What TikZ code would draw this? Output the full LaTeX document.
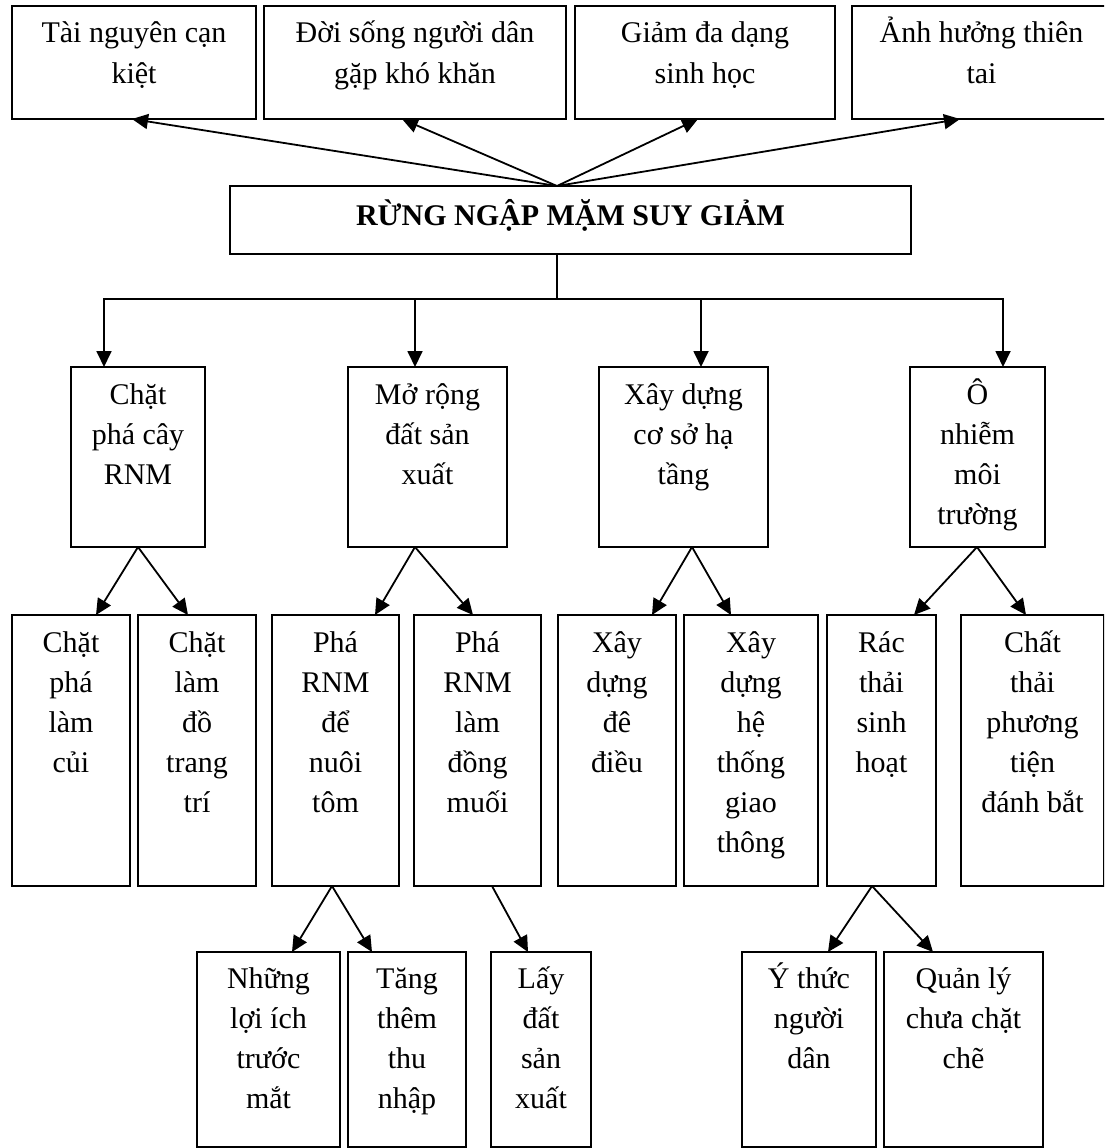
\documentclass[tikz,border=0pt]{standalone}
\usepackage{fontspec}
\setmainfont{Liberation Serif}
\usetikzlibrary{arrows.meta}
\newcommand\firstline{\rule{0pt}{33pt}}
\begin{document}
\begin{tikzpicture}[x=1pt,y=-1pt,
  box/.style={draw, line width=1.9pt, rectangle, inner sep=0pt, outer sep=0pt, anchor=north west},
  txt/.style={anchor=north, inner sep=0pt, outer sep=0pt, align=center, font=\fontsize{30}{40}\selectfont},
  con/.style={line width=1.8pt, -{Triangle[length=16pt,width=15pt]}},
  dcon/.style={line width=1.8pt, {Triangle[length=16pt,width=15pt]}-{Triangle[length=16pt,width=15pt]}},
  plain/.style={line width=1.8pt}]
\useasboundingbox (0,0) rectangle (1104,1148);
\clip (0,0) rectangle (1104,1148);

% top row
\node[box, minimum width=244pt, minimum height=113pt] (t1) at (12,6) {};
\node[box, minimum width=302pt, minimum height=113pt] (t2) at (264,6) {};
\node[box, minimum width=260pt, minimum height=113pt] (t3) at (575,6) {};
\node[box, minimum width=259pt, minimum height=113pt] (t4) at (852,6) {};
% central
\node[box, minimum width=681pt, minimum height=68pt] (c) at (230,186) {};
% level 2
\node[box, minimum width=134pt, minimum height=180pt] (A) at (71,367) {};
\node[box, minimum width=159pt, minimum height=180pt] (B) at (348,367) {};
\node[box, minimum width=169pt, minimum height=180pt] (C) at (599,367) {};
\node[box, minimum width=135pt, minimum height=180pt] (D) at (910,367) {};
% level 3
\node[box, minimum width=118pt, minimum height=271pt] (L1) at (12,615) {};
\node[box, minimum width=118pt, minimum height=271pt] (L2) at (138,615) {};
\node[box, minimum width=127pt, minimum height=271pt] (L3) at (272,615) {};
\node[box, minimum width=127pt, minimum height=271pt] (L4) at (414,615) {};
\node[box, minimum width=118pt, minimum height=271pt] (L5) at (558,615) {};
\node[box, minimum width=134pt, minimum height=271pt] (L6) at (684,615) {};
\node[box, minimum width=109pt, minimum height=271pt] (L7) at (827,615) {};
\node[box, minimum width=143pt, minimum height=271pt] (L8) at (961,615) {};
% level 4
\node[box, minimum width=143pt, minimum height=195pt] (M1) at (197,952) {};
\node[box, minimum width=118pt, minimum height=195pt] (M2) at (348,952) {};
\node[box, minimum width=100pt, minimum height=195pt] (M3) at (491,952) {};
\node[box, minimum width=134pt, minimum height=195pt] (M4) at (742,952) {};
\node[box, minimum width=159pt, minimum height=195pt] (M5) at (884,952) {};

% texts
\node[txt] (t1t) at ([yshift=-4pt]t1.north) {\firstline Tài nguyên cạn\\kiệt};
\node[txt] (t2t) at ([yshift=-4pt]t2.north) {\firstline Đời sống người dân\\gặp khó khăn};
\node[txt] (t3t) at ([yshift=-4pt]t3.north) {\firstline Giảm đa dạng\\sinh học};
\node[txt] (t4t) at ([yshift=-4pt]t4.north) {\firstline Ảnh hưởng thiên\\tai};
\node[txt, font=\bfseries\fontsize{30}{40}\selectfont] (ct) at ([yshift=-6pt]c.north) {\firstline RỪNG NGẬP MẶM SUY GIẢM};
\node[txt] (At) at ([yshift=-4pt]A.north) {\firstline Chặt\\phá cây\\RNM};
\node[txt] (Bt) at ([yshift=-4pt]B.north) {\firstline Mở rộng\\đất sản\\xuất};
\node[txt] (Ct) at ([yshift=-4pt]C.north) {\firstline Xây dựng\\cơ sở hạ\\tầng};
\node[txt] (Dt) at ([yshift=-4pt]D.north) {\firstline Ô\\nhiễm\\môi\\trường};
\node[txt] (L1t) at ([yshift=-4pt]L1.north) {\firstline Chặt\\phá\\làm\\củi};
\node[txt] (L2t) at ([yshift=-4pt]L2.north) {\firstline Chặt\\làm\\đồ\\trang\\trí};
\node[txt] (L3t) at ([yshift=-4pt]L3.north) {\firstline Phá\\RNM\\để\\nuôi\\tôm};
\node[txt] (L4t) at ([yshift=-4pt]L4.north) {\firstline Phá\\RNM\\làm\\đồng\\muối};
\node[txt] (L5t) at ([yshift=-4pt]L5.north) {\firstline Xây\\dựng\\đê\\điều};
\node[txt] (L6t) at ([yshift=-4pt]L6.north) {\firstline Xây\\dựng\\hệ\\thống\\giao\\thông};
\node[txt] (L7t) at ([yshift=-4pt]L7.north) {\firstline Rác\\thải\\sinh\\hoạt};
\node[txt] (L8t) at ([yshift=-4pt]L8.north) {\firstline Chất\\thải\\phương\\tiện\\đánh bắt};
\node[txt] (M1t) at ([yshift=-3pt]M1.north) {\firstline Những\\lợi ích\\trước\\mắt};
\node[txt] (M2t) at ([yshift=-3pt]M2.north) {\firstline Tăng\\thêm\\thu\\nhập};
\node[txt] (M3t) at ([yshift=-3pt]M3.north) {\firstline Lấy\\đất\\sản\\xuất};
\node[txt] (M4t) at ([yshift=-3pt]M4.north) {\firstline Ý thức\\người\\dân};
\node[txt] (M5t) at ([yshift=-3pt]M5.north) {\firstline Quản lý\\chưa chặt\\chẽ};

% connectors: centre to top row
\coordinate (org) at ([xshift=327pt]c.north west);
\coordinate (orgb) at ([xshift=327pt]c.south west);
\coordinate (bar) at (0,299);
\draw[con] (org) -- ([xshift=120pt]t1.south west);
\draw[con] (org) -- ([xshift=138pt]t2.south west);
\draw[con] (org) -- ([xshift=123pt]t3.south west);
\draw[con] (org) -- ([xshift=108pt]t4.south west);

% centre to level 2
\coordinate (Ain) at ([xshift=33pt]A.north west);
\coordinate (Bin) at ([xshift=67pt]B.north west);
\coordinate (Cin) at ([xshift=102pt]C.north west);
\coordinate (Din) at ([xshift=93pt]D.north west);
\draw[plain] (orgb) -- (orgb |- bar);
\draw[dcon] (Ain) -- (Ain |- bar) -- (Din |- bar) -- (Din);
\draw[con] (Bin |- bar) -- (Bin);
\draw[con] (Cin |- bar) -- (Cin);

% level 2 to level 3
\draw[con] ([xshift=67pt]A.south west) -- ([xshift=84pt]L1.north west);
\draw[con] ([xshift=67pt]A.south west) -- ([xshift=50pt]L2.north west);
\draw[con] ([xshift=67pt]B.south west) -- ([xshift=103pt]L3.north west);
\draw[con] ([xshift=67pt]B.south west) -- ([xshift=59pt]L4.north west);
\draw[con] ([xshift=93pt]C.south west) -- ([xshift=94pt]L5.north west);
\draw[con] ([xshift=93pt]C.south west) -- ([xshift=47pt]L6.north west);
\draw[con] ([xshift=67pt]D.south west) -- ([xshift=87pt]L7.north west);
\draw[con] ([xshift=67pt]D.south west) -- ([xshift=65pt]L8.north west);

% level 3 to level 4
\draw[con] ([xshift=60pt]L3.south west) -- ([xshift=95pt]M1.north west);
\draw[con] ([xshift=60pt]L3.south west) -- ([xshift=24pt]M2.north west);
\draw[con] ([xshift=78pt]L4.south west) -- ([xshift=37pt]M3.north west);
\draw[con] ([xshift=45pt]L7.south west) -- ([xshift=86pt]M4.north west);
\draw[con] ([xshift=45pt]L7.south west) -- ([xshift=49pt]M5.north west);
\end{tikzpicture}
\end{document}
